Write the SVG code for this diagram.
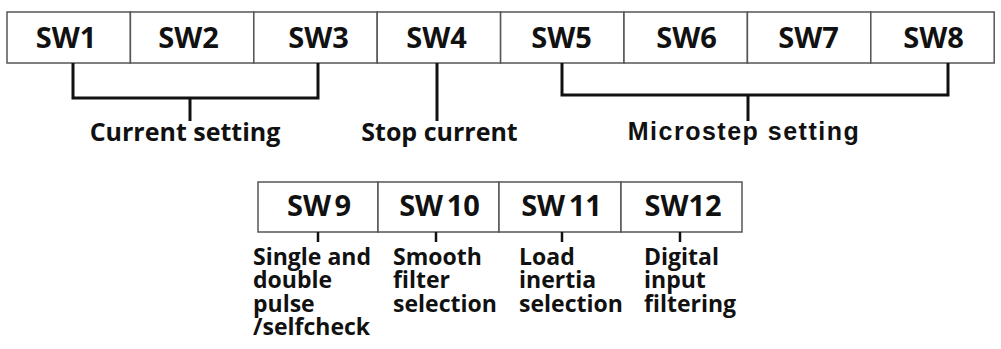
<svg xmlns="http://www.w3.org/2000/svg" width="1001" height="349" viewBox="0 0 1001 349">
<style>
.cell{fill:#fff;stroke:#555;stroke-width:1.5}
.sw{font-family:"Open Sans","Noto Sans",sans-serif;font-weight:700;font-size:29px;fill:#111;text-anchor:middle}
.sw2{font-family:"Open Sans","Noto Sans",sans-serif;font-weight:700;font-size:29px;fill:#111;text-anchor:middle}
.lbl{font-family:"Open Sans","Noto Sans",sans-serif;font-weight:700;font-size:25px;fill:#111;text-anchor:middle}
.lbl2{font-family:"Liberation Sans",Arial,sans-serif;font-weight:700;font-size:25px;fill:#111;text-anchor:middle;letter-spacing:1.5px}
.sub{font-family:"Open Sans","Noto Sans",sans-serif;font-weight:700;font-size:23px;fill:#111}
.ln{fill:none;stroke:#111;stroke-width:3}
.tk{fill:none;stroke:#111;stroke-width:2.5}
</style>
<rect width="1001" height="349" fill="#fff"/>
<g id="sw1"><rect class="cell" x="7" y="12" width="123.4" height="51"/><text class="sw" x="66" y="48">SW1</text></g>
<g id="sw2"><rect class="cell" x="130.4" y="12" width="123.4" height="51"/><text class="sw" x="188.5" y="48">SW2</text></g>
<g id="sw3"><rect class="cell" x="253.8" y="12" width="123.4" height="51"/><text class="sw" x="318.5" y="48">SW3</text></g>
<g id="sw4"><rect class="cell" x="377.2" y="12" width="123.4" height="51"/><text class="sw" x="436.5" y="48">SW4</text></g>
<g id="sw5"><rect class="cell" x="500.6" y="12" width="123.4" height="51"/><text class="sw" x="561.5" y="48">SW5</text></g>
<g id="sw6"><rect class="cell" x="624" y="12" width="123.4" height="51"/><text class="sw" x="686.5" y="48">SW6</text></g>
<g id="sw7"><rect class="cell" x="747.4" y="12" width="123.4" height="51"/><text class="sw" x="808.5" y="48">SW7</text></g>
<g id="sw8"><rect class="cell" x="870.8" y="12" width="123.4" height="51"/><text class="sw" x="933.5" y="48">SW8</text></g>

<g id="sw9"><rect class="cell" x="258" y="182" width="120" height="50"/><text class="sw2" x="319" y="216" word-spacing="-4">SW 9</text></g>
<g id="sw10"><rect class="cell" x="378" y="182" width="121" height="50"/><text class="sw2" x="439.5" y="216" word-spacing="-4">SW 10</text></g>
<g id="sw11"><rect class="cell" x="499" y="182" width="122" height="50"/><text class="sw2" x="561.5" y="216" word-spacing="-4">SW 11</text></g>
<g id="sw12"><rect class="cell" x="621" y="182" width="121" height="50"/><text class="sw2" x="683" y="216">SW12</text></g>

<g id="connectors">
<path class="ln" d="M73 63V98H318V63M190 98V121"/>
<path class="ln" d="M437 63V121"/>
<path class="ln" d="M562 63V95H948V63M748 95V121"/>
<path class="tk" d="M318 232V242M436 232V242M562 232V242M680 232V242"/>
</g>

<g id="labels">
<text class="lbl" x="185" y="141">Current setting</text>
<text class="lbl" x="439.5" y="141">Stop current</text>
<text class="lbl2" x="744" y="140">Microstep setting</text>
<text class="sub" x="253" y="265"><tspan x="253">Single and</tspan><tspan x="253" dy="23.3">double</tspan><tspan x="253" dy="23.3">pulse</tspan><tspan x="253" dy="23.3">/selfcheck</tspan></text>
<text class="sub" x="393" y="265"><tspan x="393">Smooth</tspan><tspan x="393" dy="23.3">filter</tspan><tspan x="393" dy="23.3">selection</tspan></text>
<text class="sub" x="519" y="265"><tspan x="519">Load</tspan><tspan x="519" dy="23.3">inertia</tspan><tspan x="519" dy="23.3">selection</tspan></text>
<text class="sub" x="644" y="265"><tspan x="644">Digital</tspan><tspan x="644" dy="23.3">input</tspan><tspan x="644" dy="23.3">filtering</tspan></text>
</g>
</svg>
